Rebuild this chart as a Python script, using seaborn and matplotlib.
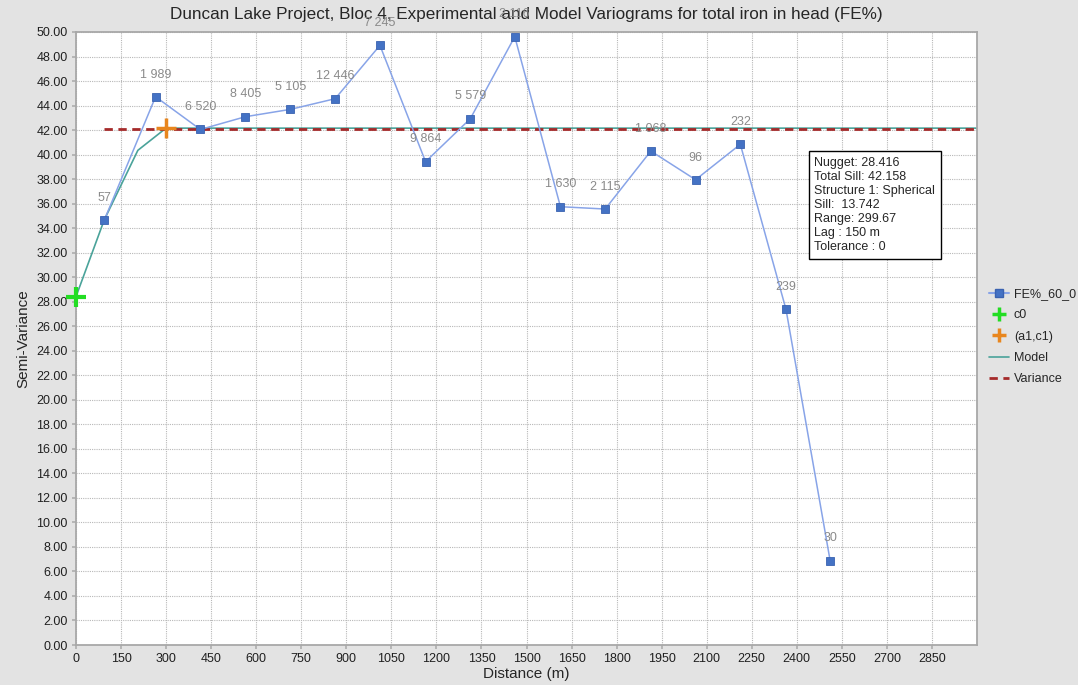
import matplotlib
matplotlib.use("Agg")
import matplotlib.pyplot as plt
import seaborn as sns
import pandas as pd
from matplotlib.lines import Line2D

# ---- data ----
lag_dist = [94, 265, 414, 564, 714, 863, 1012, 1164, 1313, 1461, 1613, 1762, 1914, 2063, 2212, 2364, 2511]
semivar = [34.65, 44.72, 42.05, 43.09, 43.69, 44.56, 48.91, 39.42, 42.93, 49.62, 35.75, 35.56, 40.29, 37.95, 40.84, 27.38, 6.88]
pair_labels = ["57", "1 989", "6 520", "8 405", "5 105", "12 446", "7 245", "9 864", "5 579", "2 116",
               "1 630", "2 115", "1 068", "96", "232", "239", "30"]
model_dist = [0, 94, 206, 299.67, 3000]
model_val = [28.416, 34.67, 40.35, 42.158, 42.158]
c0_point = ([0], [28.416])
a1c1_point = ([299.67], [42.158])
variance_dist = [94, 3000]
variance_val = [42.1, 42.1]
info_lines = ["Nugget: 28.416", "Total Sill: 42.158", "Structure 1: Spherical", "Sill:  13.742",
              "Range: 299.67", "Lag : 150 m", "Tolerance : 0"]
x_ticks = list(range(0, 2851, 150))
y_ticks = [i * 2 for i in range(26)]

sns.set_theme(style="white")
plt.rcParams['font.family'] = ['Liberation Sans', 'DejaVu Sans']

fig = plt.figure(figsize=(10.78, 6.85), dpi=100, facecolor="#e3e3e3")
ax = fig.add_axes([76 / 1078, 1 - 645 / 685, (977 - 76) / 1078, (645 - 32) / 685])
ax.set_facecolor("white")

exp_df = pd.DataFrame({"d": lag_dist, "g": semivar})
mod_df = pd.DataFrame({"d": model_dist, "g": model_val})
var_df = pd.DataFrame({"d": variance_dist, "g": variance_val})

sns.lineplot(data=var_df, x="d", y="g", ax=ax, color="#a52a2a", lw=2, linestyle=(0, (3, 2)), zorder=3)
sns.lineplot(data=mod_df, x="d", y="g", ax=ax, color="#4aa39a", lw=1.2, zorder=2)
sns.lineplot(data=exp_df, x="d", y="g", ax=ax, color="#88a4e8", lw=1.1, marker="s", markersize=6,
             markerfacecolor="#4472c4", markeredgecolor="#3a62b0", markeredgewidth=0.6, zorder=4, sort=False)
ax.plot(*c0_point, marker="+", color="#22dd22", markersize=14, mew=3, ls="none", zorder=5, clip_on=False)
ax.plot(*a1c1_point, marker="+", color="#e8861e", markersize=14, mew=2.5, ls="none", zorder=5)

for d, g, lab in zip(lag_dist, semivar, pair_labels):
    ax.annotate(lab, (d, g), xytext=(0, 16), textcoords="offset points", ha="center", va="center",
                fontsize=9, color="#8a8a8a", zorder=6, annotation_clip=False)

ax.set_xlim(0, 3000)
ax.set_ylim(0, 50)
ax.set_xticks(x_ticks)
ax.set_yticks(y_ticks)
ax.set_yticklabels([f"{v:.2f}" for v in y_ticks])
ax.tick_params(axis="both", labelsize=9, length=3, color="#b0b0b0", pad=3, left=True, bottom=True,
               labelcolor="#202020")
ax.grid(True, color="#b8b8b8", linestyle=(0, (1, 1)), linewidth=0.8)
for s in ax.spines.values():
    s.set_color("#a8a8a8")
    s.set_linewidth(1.3)

ax.set_xlabel("Distance (m)", fontsize=11, labelpad=1)
ax.set_ylabel("Semi-Variance", fontsize=11, labelpad=4)
ax.set_title("Duncan Lake Project, Bloc 4, Experimental and Model Variograms for total iron in head (FE%)",
             fontsize=12.3, pad=9)

ax.text(2458, 39.8, "\n".join(info_lines), fontsize=9, va="top", ha="left", linespacing=1.22,
        bbox=dict(boxstyle="square,pad=0.45", facecolor="white", edgecolor="black", linewidth=1), zorder=7)

handles = [
    Line2D([], [], color="#88a4e8", marker="s", markersize=6, markerfacecolor="#4472c4", markeredgecolor="#3a62b0"),
    Line2D([], [], color="#22dd22", marker="+", markersize=10, mew=2.5, ls="none"),
    Line2D([], [], color="#e8861e", marker="+", markersize=10, mew=2.5, ls="none"),
    Line2D([], [], color="#4aa39a", lw=1.2),
    Line2D([], [], color="#a52a2a", lw=2, linestyle=(0, (3, 2))),
]
labels = ["FE%_60_0", "c0", "(a1,c1)", "Model", "Variance"]
fig.legend(handles, labels, loc="upper left", bbox_to_anchor=(984 / 1078, 1 - 283 / 685), frameon=False,
           fontsize=9, handlelength=1.6, handletextpad=0.4, labelspacing=0.75, borderaxespad=0)

fig.savefig("out.png", dpi=100, facecolor=fig.get_facecolor())
